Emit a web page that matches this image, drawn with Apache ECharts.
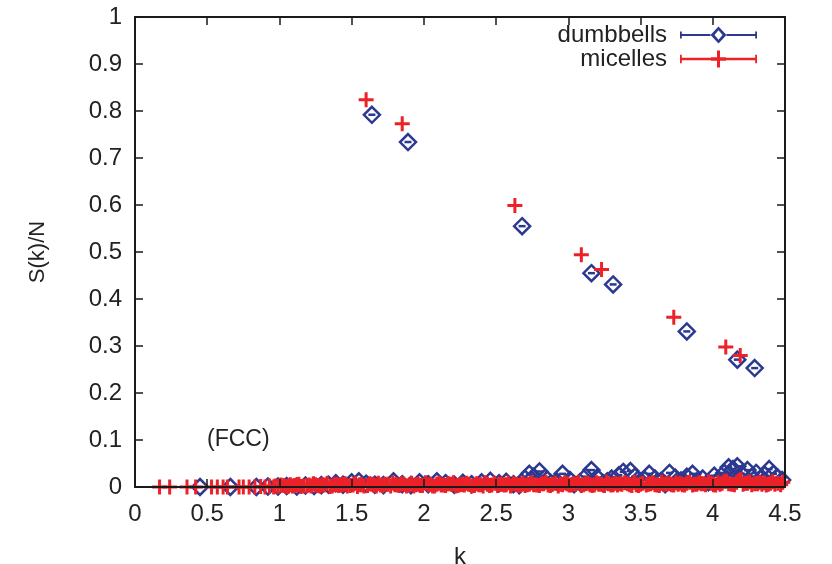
<!DOCTYPE html>
<html>
<head>
<meta charset="utf-8">
<script src="https://cdn.jsdelivr.net/npm/echarts@6/dist/echarts.min.js"></script>
<style>html,body{margin:0;padding:0;background:#fff}#c{width:832px;height:564px}</style>
</head>
<body>
<div id="c"></div>
<script>
// ---- data ----
var xTicks = [0, 0.5, 1, 1.5, 2, 2.5, 3, 3.5, 4, 4.5];
var yTicks = [0, 0.1, 0.2, 0.3, 0.4, 0.5, 0.6, 0.7, 0.8, 0.9, 1];

var dumbbellPeakK = [1.64, 1.89, 2.68, 3.16, 3.31, 3.82, 4.17, 4.29];
var dumbbellPeakS = [0.792, 0.734, 0.555, 0.455, 0.431, 0.331, 0.271, 0.253];

var micellePeakK = [1.60, 1.85, 2.63, 3.09, 3.23, 3.73, 4.09, 4.19];
var micellePeakS = [0.824, 0.773, 0.599, 0.494, 0.463, 0.361, 0.298, 0.280];

var dumbbellLowK = [0.45, 0.66, 0.84, 0.92, 0.99, 1.05, 1.12, 1.18, 1.24, 1.29, 1.34, 1.39, 1.44, 1.50, 1.55, 1.60,
  1.66, 1.72, 1.79, 1.85, 1.91, 1.97, 2.03, 2.09, 2.15, 2.21, 2.27, 2.33, 2.40, 2.46, 2.52, 2.57, 2.62, 2.66,
  2.70, 2.73, 2.76, 2.80, 2.84, 2.88, 2.92, 2.96, 3.01, 3.04, 3.08, 3.12, 3.16, 3.20, 3.24, 3.27, 3.30, 3.35,
  3.38, 3.43, 3.46, 3.50, 3.53, 3.56, 3.60, 3.64, 3.67, 3.70, 3.74, 3.78, 3.82, 3.86, 3.89, 3.93, 3.97, 4.01,
  4.04, 4.08, 4.11, 4.14, 4.17, 4.20, 4.24, 4.27, 4.30, 4.33, 4.36, 4.39, 4.42, 4.45, 4.48];
var dumbbellLowS = [0, 0, 0, 0.001, 0.001, 0.002, 0.001, 0.003, 0.002, 0.004, 0.005, 0.008, 0.005, 0.010, 0.012, 0.007,
  0.005, 0.004, 0.012, 0.006, 0.004, 0.010, 0.006, 0.012, 0.008, 0.005, 0.009, 0.006, 0.010, 0.013, 0.008, 0.011, 0.006, 0.004,
  0.018, 0.028, 0.022, 0.033, 0.020, 0.008, 0.012, 0.028, 0.015, 0.006, 0.010, 0.022, 0.036, 0.020, 0.008, 0.012, 0.018, 0.025,
  0.032, 0.034, 0.022, 0.012, 0.015, 0.028, 0.018, 0.012, 0.006, 0.030, 0.020, 0.014, 0.022, 0.028, 0.012, 0.018, 0.010, 0.024,
  0.016, 0.030, 0.042, 0.038, 0.044, 0.028, 0.036, 0.022, 0.030, 0.018, 0.026, 0.038, 0.028, 0.020, 0.015];

var micelleLowK = [0.17, 0.24, 0.36, 0.42, 0.53, 0.57, 0.61, 0.64, 0.72, 0.75, 0.79, 0.83, 0.87, 0.90, 0.93, 0.96,
  0.99, 1.03, 1.06, 1.09, 1.12, 1.15, 1.19, 1.22, 1.25, 1.28, 1.31, 1.35, 1.38, 1.41, 1.44, 1.47, 1.51, 1.54,
  1.57, 1.61, 1.64, 1.67, 1.70, 1.73, 1.77, 1.80, 1.83, 1.86, 1.90, 1.93, 1.96, 1.99, 2.03, 2.06, 2.09, 2.12,
  2.15, 2.19, 2.22, 2.25, 2.28, 2.31, 2.35, 2.38, 2.41, 2.44, 2.47, 2.51, 2.54, 2.57, 2.60, 2.64, 2.67, 2.70,
  2.73, 2.76, 2.80, 2.83, 2.86, 2.89, 2.93, 2.96, 2.99, 3.02, 3.05, 3.09, 3.12, 3.15, 3.18, 3.21, 3.25, 3.28,
  3.31, 3.34, 3.37, 3.41, 3.44, 3.47, 3.50, 3.54, 3.57, 3.60, 3.63, 3.66, 3.70, 3.73, 3.76, 3.79, 3.82, 3.86,
  3.89, 3.92, 3.95, 3.99, 4.02, 4.05, 4.08, 4.11, 4.15, 4.18, 4.21, 4.24, 4.27, 4.31, 4.34, 4.37, 4.40, 4.43, 4.47];
var micelleLowS = [0, 0, 0, 0, 0, 0, 0, 0, 0, 0, 0, 0, 0.001, 0, 0.002, 0,
  0.001, 0.003, 0.001, 0.002, 0.004, 0.001, 0.003, 0.002, 0.005, 0.002, 0.004, 0.001, 0.005, 0.003, 0.006, 0.002, 0.004, 0.001,
  0.005, 0.003, 0.006, 0.002, 0.004, 0.006, 0.002, 0.005, 0.003, 0.006, 0.004, 0.002, 0.006, 0.003, 0.005, 0.002, 0.006, 0.004,
  0.003, 0.006, 0.002, 0.005, 0.004, 0.006, 0.003, 0.005, 0.002, 0.006, 0.004, 0.003, 0.006, 0.005, 0.002, 0.006, 0.004, 0.003,
  0.006, 0.005, 0.003, 0.007, 0.004, 0.006, 0.002, 0.005, 0.007, 0.004, 0.006, 0.003, 0.007, 0.005, 0.004, 0.006, 0.003, 0.007,
  0.005, 0.004, 0.006, 0.007, 0.003, 0.005, 0.006, 0.004, 0.007, 0.005, 0.003, 0.006, 0.007, 0.004, 0.006, 0.005, 0.008, 0.004,
  0.006, 0.007, 0.005, 0.008, 0.004, 0.006, 0.012, 0.007, 0.005, 0.014, 0.006, 0.008, 0.005, 0.007, 0.006, 0.004, 0.008, 0.006, 0.005];

var micelleBandK = [0.97, 1.01, 1.045, 1.075, 1.105, 1.135, 1.17, 1.205, 1.235, 1.265, 1.295, 1.33, 1.365, 1.395, 1.425,
  1.455, 1.49, 1.525, 1.555, 1.585, 1.625, 1.655, 1.685, 1.715, 1.75, 1.785, 1.815, 1.845, 1.88, 1.915, 1.945, 1.975,
  2.01, 2.045, 2.075, 2.105, 2.135, 2.17, 2.205, 2.235, 2.265, 2.295, 2.33, 2.365, 2.395, 2.425, 2.455, 2.49, 2.525,
  2.555, 2.585, 2.62, 2.655, 2.685, 2.715, 2.745, 2.78, 2.815, 2.845, 2.875, 2.91, 2.945, 2.975, 3.005, 3.035, 3.07,
  3.105, 3.135, 3.165, 3.195, 3.23, 3.265, 3.295, 3.325, 3.355, 3.39, 3.425, 3.455, 3.485, 3.515, 3.555, 3.585, 3.615,
  3.645, 3.68, 3.715, 3.745, 3.775, 3.805, 3.84, 3.875, 3.905, 3.935, 3.97, 4.005, 4.035, 4.065, 4.095, 4.13, 4.165,
  4.195, 4.225, 4.255, 4.29, 4.325, 4.355, 4.385, 4.415, 4.45, 4.485];
var micelleBandS = [0.002, 0.004, 0.001, 0.005, 0.003, 0.006, 0.002, 0.004, 0.007, 0.003, 0.005, 0.008, 0.002, 0.006, 0.004,
  0.007, 0.003, 0.008, 0.005, 0.002, 0.007, 0.004, 0.008, 0.003, 0.006, 0.009, 0.004, 0.007, 0.002, 0.008, 0.005, 0.003,
  0.009, 0.006, 0.002, 0.008, 0.004, 0.007, 0.009, 0.003, 0.006, 0.008, 0.002, 0.007, 0.005, 0.009, 0.003, 0.008, 0.006,
  0.004, 0.009, 0.007, 0.003, 0.008, 0.005, 0.009, 0.004, 0.007, 0.010, 0.003, 0.008, 0.006, 0.009, 0.004, 0.007, 0.010,
  0.005, 0.008, 0.003, 0.009, 0.006, 0.010, 0.004, 0.008, 0.007, 0.009, 0.005, 0.010, 0.003, 0.008, 0.006, 0.009, 0.004,
  0.010, 0.007, 0.005, 0.009, 0.008, 0.004, 0.010, 0.006, 0.009, 0.007, 0.011, 0.005, 0.009, 0.008, 0.012, 0.006, 0.010,
  0.016, 0.008, 0.011, 0.007, 0.010, 0.009, 0.006, 0.011, 0.008, 0.010];

// ---- styles ----
var BLUE = '#2b3990';
var RED = '#ec2228';
var FONT = 'Liberation Sans';
var plusPath = 'path://M6,0h3v6h6v3h-6v6h-3v-6h-6v-3h6z';
var legDumb = 'path://M0,7.6H30.5V9.4H0Z M0,5H1.8V12H0Z M46.5,7.6H77V9.4H46.5Z M75.2,5H77V12H75.2Z M38.5,0L46.5,8.5L38.5,17L30.5,8.5Z M38.5,3.7L34.5,8.5L38.5,13.3L42.5,8.5Z';
var legMic = 'path://M0,7.5H77V9.5H0Z M0,5H1.8V12H0Z M75.2,5H77V12H75.2Z M37,1.5H40V15.5H37Z M31,7H46V10H31Z';

function pairs(ks, ss) { return ks.map(function (k, i) { return [k, ss[i]]; }); }
var dumbAll = pairs(dumbbellPeakK, dumbbellPeakS).concat(pairs(dumbbellLowK, dumbbellLowS));
var micAll = pairs(micellePeakK, micellePeakS).concat(pairs(micelleLowK, micelleLowS)).concat(pairs(micelleBandK, micelleBandS));

var axisCommon = {
  axisLine: { show: true, onZero: false, lineStyle: { color: '#1a1a1a', width: 2 } },
  axisTick: { show: true, inside: true, length: 8, lineStyle: { color: '#1a1a1a', width: 1.5 } },
  splitLine: { show: false },
  z: 10
};

var chart = echarts.init(document.getElementById('c'));
chart.setOption({
  backgroundColor: '#fff',
  animation: false,
  grid: { left: 135, right: 47, top: 17, bottom: 77, containLabel: false, outerBoundsMode: 'none' },
  legend: {
    right: 75, top: 23, orient: 'vertical', align: 'right', padding: 0,
    itemWidth: 77, itemHeight: 17, itemGap: 0, symbolKeepAspect: false,
    textStyle: { fontFamily: FONT, fontSize: 24, color: '#222', padding: [0, 8, 0, 0] },
    data: [
      { name: 'dumbbells', icon: legDumb, itemStyle: { color: BLUE, borderWidth: 0, opacity: 1 } },
      { name: 'micelles', icon: legMic, itemStyle: { color: RED, borderWidth: 0, opacity: 1 } }
    ]
  },
  graphic: [{
    type: 'text', left: 207, top: 428,
    style: { text: '(FCC)', font: '23px "Liberation Sans"', fill: '#222' }
  }],
  xAxis: [
    Object.assign({
      type: 'value', min: xTicks[0], max: xTicks[xTicks.length - 1], interval: 0.5,
      name: 'k', nameLocation: 'middle', nameGap: 58,
      nameTextStyle: { fontFamily: FONT, fontSize: 24, color: '#222' },
      axisLabel: { fontFamily: FONT, fontSize: 24, color: '#222', margin: 15 }
    }, axisCommon),
    Object.assign({
      type: 'value', position: 'top', min: xTicks[0], max: xTicks[xTicks.length - 1], interval: 0.5,
      axisLabel: { show: false }
    }, axisCommon)
  ],
  yAxis: [
    Object.assign({
      type: 'value', min: yTicks[0], max: yTicks[yTicks.length - 1], interval: 0.1,
      name: 'S(k)/N', nameLocation: 'middle', nameGap: 86,
      nameTextStyle: { fontFamily: FONT, fontSize: 22, color: '#222' },
      axisLabel: { fontFamily: FONT, fontSize: 24, color: '#222', margin: 13 }
    }, axisCommon),
    Object.assign({
      type: 'value', position: 'right', min: yTicks[0], max: yTicks[yTicks.length - 1], interval: 0.1,
      axisLabel: { show: false }
    }, axisCommon)
  ],
  series: [
    {
      name: 'dumbbells', type: 'scatter', clip: false, symbol: 'diamond', symbolSize: [16, 16],
      itemStyle: { color: 'transparent', borderColor: BLUE, borderWidth: 2.5, opacity: 1 },
      data: dumbAll, z: 2
    },
    {
      name: 'dumbbells-err', type: 'scatter', clip: false, symbol: 'rect', symbolSize: [7, 2.5],
      itemStyle: { color: BLUE, opacity: 1 }, data: dumbAll, z: 2
    },
    {
      name: 'micelles', type: 'scatter', clip: false, symbol: plusPath, symbolSize: 15,
      itemStyle: { color: RED, opacity: 1 }, data: micAll, z: 3
    }
  ]
});
</script>
</body>
</html>
